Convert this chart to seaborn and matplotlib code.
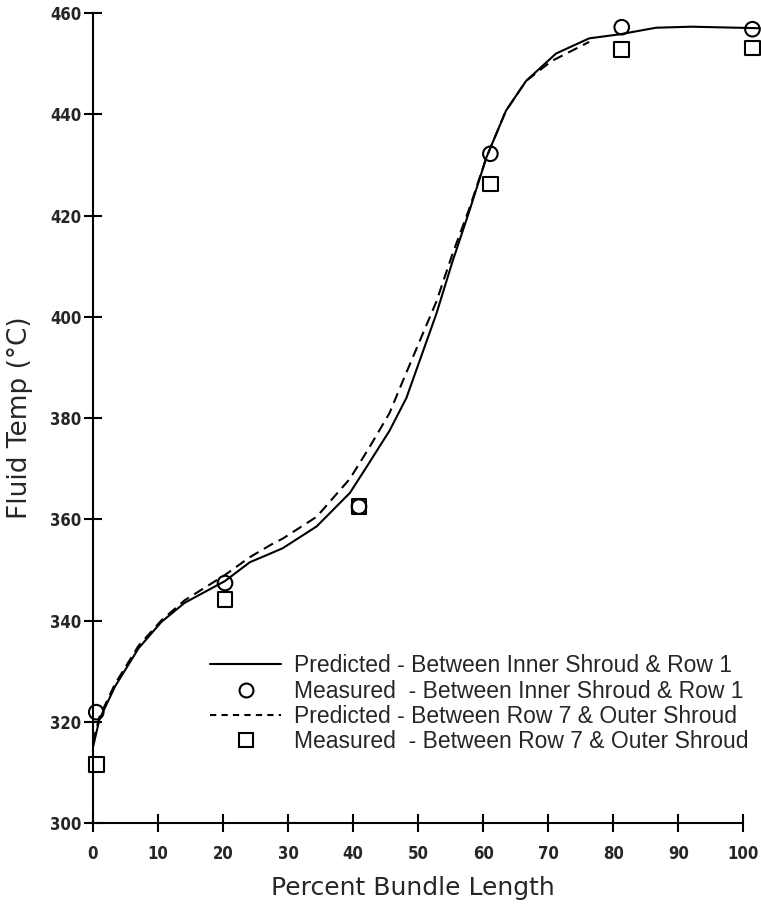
import numpy as np
import pandas as pd
import seaborn as sns
import matplotlib.pyplot as plt
from matplotlib.lines import Line2D

# predicted curves
pred_inner_x = [0, 1, 3.4, 7, 10.5, 14.1, 20.3, 24.1, 27.4, 29.2, 34.4, 39.5, 42.0, 45.6, 48.2,
                52.8, 55.3, 57.9, 60.5, 63.5, 66.6, 71.2, 76.3, 81, 86.6, 92, 102.5]
pred_inner_y = [315, 320.5, 327, 334.5, 339.7, 343.5, 347.8, 351.5, 353.3, 354.3, 358.6, 365.2, 370.2, 377.5, 384,
                400.6, 411, 421, 431.5, 440.7, 446.6, 452, 455, 455.8, 457.1, 457.3, 457]

pred_outer_x = [0, 1, 3.4, 7, 10.5, 14.1, 17.2, 20.3, 24.1, 27.4, 29.2, 34.4, 39.5, 42.5, 45.6, 47.7,
                52.8, 55.3, 57.9, 60.5, 63.5, 66.6, 70.5, 76.3]
pred_outer_y = [316, 321, 327.5, 335, 340, 344, 346.5, 349, 352.5, 355, 356.2, 360.5, 368, 374.2, 381, 387.5,
                403, 412.5, 421.5, 431.5, 440.7, 446.6, 450.5, 454.3]

# measured points
meas_x = [0.5, 20.3, 40.9, 61.1, 81.3, 101.4]
meas_inner_y = [321.9, 347.4, 362.5, 432.2, 457.2, 456.8]
meas_outer_y = [311.6, 344.1, 362.5, 426.2, 452.8, 453.1]

labels = ["Predicted - Between Inner Shroud & Row 1",
          "Measured  - Between Inner Shroud & Row 1",
          "Predicted - Between Row 7 & Outer Shroud",
          "Measured  - Between Row 7 & Outer Shroud"]

sns.set_style("white")
plt.rcParams['font.family'] = ['DejaVu Sans']

fig = plt.figure(figsize=(7.61, 9.05), dpi=100)
ax = fig.add_axes([0.1222, 0.0906, 0.8546, 0.895])

sns.lineplot(x=pred_inner_x, y=pred_inner_y, ax=ax, color="black", lw=1.5,
             estimator=None, sort=False, clip_on=False)
sns.lineplot(x=pred_outer_x, y=pred_outer_y, ax=ax, color="black", lw=1.5,
             dashes=False, linestyle=(0, (5, 3)), estimator=None, sort=False, clip_on=False)
sns.scatterplot(x=meas_x, y=meas_inner_y, ax=ax, marker="o", s=110, facecolor="none",
                edgecolor="black", linewidth=1.5, clip_on=False, zorder=3)
sns.scatterplot(x=meas_x, y=meas_outer_y, ax=ax, marker="s", s=110, facecolor="none",
                edgecolor="black", linewidth=1.5, clip_on=False, zorder=3)

ax.set_xlim(0, 100)
ax.set_ylim(300, 460)
ax.set_xticks(range(0, 101, 10))
ax.set_yticks(range(300, 461, 20))
sns.despine(ax=ax)
for s in ["left", "bottom"]:
    ax.spines[s].set_linewidth(1.5)
    ax.spines[s].set_color("black")
ax.tick_params(axis="both", direction="inout", length=13, width=1.5, color="black",
               bottom=True, left=True)
ax.tick_params(axis="x", pad=9)
ax.tick_params(axis="y", pad=2)
for lab in ax.get_xticklabels() + ax.get_yticklabels():
    lab.set_family("DejaVu Sans")
    lab.set_stretch("condensed")
    lab.set_fontweight("bold")
    lab.set_fontsize(12)

ax.set_xlabel("Percent Bundle Length", fontsize=18)
ax.set_ylabel("Fluid Temp (°C)", fontsize=19)
ax.xaxis.set_label_coords(0.492, -0.065)
ax.yaxis.set_label_coords(-0.092, 0.5)

handles = [Line2D([], [], color="black", lw=1.5),
           Line2D([], [], color="black", marker="o", ls="none", mfc="none", ms=10, mew=1.5),
           Line2D([], [], color="black", lw=1.5, ls=(0, (3, 2.5))),
           Line2D([], [], color="black", marker="s", ls="none", mfc="none", ms=10, mew=1.5)]
fig.legend(handles, labels, loc="upper left", bbox_to_anchor=(0.276, 0.277), frameon=False,
           prop={"family": "Liberation Sans", "size": 16.5}, handlelength=3.1, handletextpad=0.55,
           labelspacing=0.1, borderpad=0, borderaxespad=0)

fig.savefig("out.png", dpi=100)
